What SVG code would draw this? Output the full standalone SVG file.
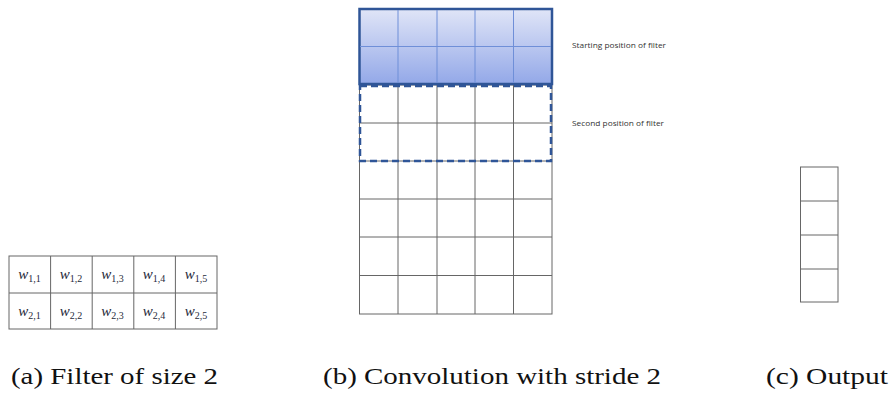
<svg xmlns="http://www.w3.org/2000/svg" width="891" height="394" viewBox="0 0 891 394">
<defs>
<linearGradient id="blueGrad" x1="0" y1="0" x2="0" y2="1">
<stop offset="0" stop-color="#e0e5f7"/>
<stop offset="1" stop-color="#93a8e8"/>
</linearGradient>
<style>
.grid{stroke:#666;stroke-width:1;fill:none}
.ingrid{stroke:#6f8fd8;stroke-width:1;fill:none}
.w{font-family:"Liberation Serif",serif;font-style:italic;font-size:15px;fill:#1f2a3a}
.sub{font-family:"Liberation Serif",serif;font-style:normal;font-size:10px}
.cap{font-family:"Liberation Serif",serif;font-size:22.5px;fill:#111}
.note{font-family:"Open Sans","Liberation Sans",sans-serif;font-size:7px;fill:#333}
</style>
</defs>
<rect width="891" height="394" fill="#fff"/>

<g id="filter">
<rect class="grid" x="9" y="256" width="208" height="73"/>
<path class="grid" d="M9 293H217M50.6 256V329M92.2 256V329M133.8 256V329M175.4 256V329"/>
<text class="w" text-anchor="middle" x="29.5" y="279">w<tspan class="sub" dy="3">1,1</tspan></text>
<text class="w" text-anchor="middle" x="71" y="279">w<tspan class="sub" dy="3">1,2</tspan></text>
<text class="w" text-anchor="middle" x="112.5" y="279">w<tspan class="sub" dy="3">1,3</tspan></text>
<text class="w" text-anchor="middle" x="154" y="279">w<tspan class="sub" dy="3">1,4</tspan></text>
<text class="w" text-anchor="middle" x="196" y="279">w<tspan class="sub" dy="3">1,5</tspan></text>
<text class="w" text-anchor="middle" x="29.5" y="316">w<tspan class="sub" dy="3">2,1</tspan></text>
<text class="w" text-anchor="middle" x="71" y="316">w<tspan class="sub" dy="3">2,2</tspan></text>
<text class="w" text-anchor="middle" x="112.5" y="316">w<tspan class="sub" dy="3">2,3</tspan></text>
<text class="w" text-anchor="middle" x="154" y="316">w<tspan class="sub" dy="3">2,4</tspan></text>
<text class="w" text-anchor="middle" x="196" y="316">w<tspan class="sub" dy="3">2,5</tspan></text>
</g>

<g id="input">
<rect class="grid" x="359.5" y="9" width="192.5" height="305"/>
<path class="grid" d="M398 9V314M437 9V314M475 9V314M513.5 9V314M359.5 47H552M359.5 85H552M359.5 123H552M359.5 161H552M359.5 199H552M359.5 237H552M359.5 275.5H552"/>
</g>

<g id="start-filter">
<rect x="359.5" y="9" width="192.5" height="75" fill="url(#blueGrad)" stroke="#2f5597" stroke-width="2.5"/>
<path class="ingrid" d="M398 10V83M437 10V83M475 10V83M513.5 10V83M360 46.5H551"/>
</g>

<g id="second-filter">
<rect x="360" y="86" width="191" height="75" fill="none" stroke="#2f5597" stroke-width="2.5" stroke-dasharray="7,4"/>
</g>

<g id="output">
<rect class="grid" x="800.5" y="167" width="37.5" height="135"/>
<path class="grid" d="M800.5 201H838M800.5 235H838M800.5 269H838"/>
</g>

<g id="labels">
<text class="note" x="572" y="48" textLength="94" lengthAdjust="spacingAndGlyphs">Starting position of filter</text>
<text class="note" x="572" y="126" textLength="92" lengthAdjust="spacingAndGlyphs">Second position of filter</text>
<text class="cap" x="11" y="384" textLength="207" lengthAdjust="spacingAndGlyphs">(a) Filter of size 2</text>
<text class="cap" x="323" y="384" textLength="338" lengthAdjust="spacingAndGlyphs">(b) Convolution with stride 2</text>
<text class="cap" x="766" y="384" textLength="122" lengthAdjust="spacingAndGlyphs">(c) Output</text>
</g>
</svg>
